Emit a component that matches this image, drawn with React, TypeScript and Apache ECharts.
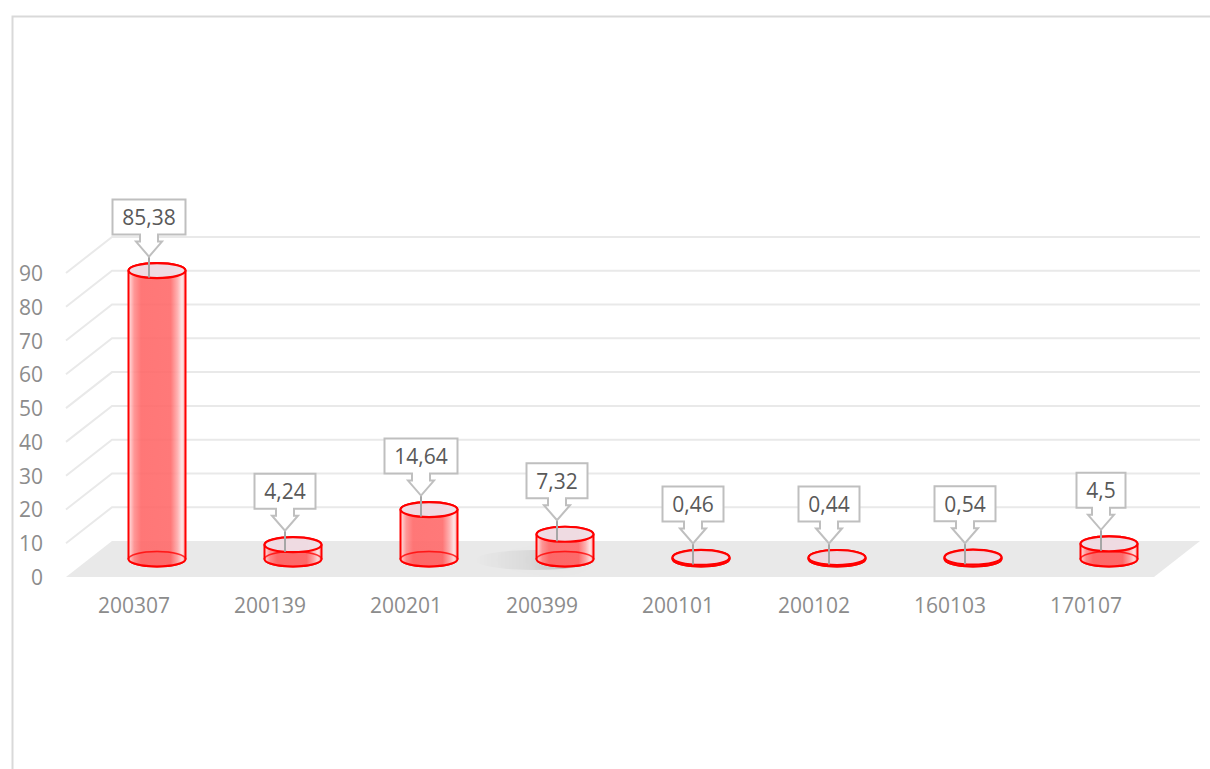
import React, { useEffect, useRef } from 'react';
import * as echarts from 'echarts';

const categories = ['200307', '200139', '200201', '200399', '200101', '200102', '160103', '170107'];
const values = [85.38, 4.24, 14.64, 7.32, 0.46, 0.44, 0.54, 4.5];
const yTicks = [0, 10, 20, 30, 40, 50, 60, 70, 80, 90];
const shadowedCategories = ['200399'];

const FONT = '"Open Sans", "Noto Sans", sans-serif';
const FS = 21;
const DX = 46;
const DY = -36;
const RX = 28.5;
const RY = 7.5;

function ellipsePath(cx: number, cy: number, rx: number, ry: number) {
  return `M${cx - rx},${cy}A${rx},${ry} 0 0 0 ${cx + rx},${cy}A${rx},${ry} 0 0 0 ${cx - rx},${cy}Z`;
}

let measureCtx: CanvasRenderingContext2D | null = null;
function textWidth(s: string) {
  if (!measureCtx) measureCtx = document.createElement('canvas').getContext('2d');
  if (!measureCtx) return s.length * 11;
  measureCtx.font = `${FS}px ${FONT}`;
  return measureCtx.measureText(s).width;
}

export default function App() {
  const ref = useRef<HTMLDivElement>(null);

  useEffect(() => {
    if (!ref.current) return;
    const chart = echarts.init(ref.current, null, { renderer: 'svg' });

    const wallsSeries = {
      type: 'custom',
      z: 1,
      silent: true,
      data: yTicks.map((v) => [0, v]),
      encode: { x: 0, y: 1 },
      renderItem: (params: any, api: any) => {
        const v = api.value(1);
        const p0 = api.coord([0, v]);
        const p1 = api.coord([1, v]);
        const pN = api.coord([categories.length - 1, v]);
        const bw = p1[0] - p0[0];
        const left = p0[0] - bw / 2;
        const right = pN[0] + bw / 2;
        const y = p0[1];
        if (v === 0) {
          return {
            type: 'polygon',
            shape: { points: [[left, y], [right, y], [right + DX, y + DY], [left + DX, y + DY]] },
            style: { fill: '#e9e9e9' },
          };
        }
        return {
          type: 'polyline',
          shape: { points: [[left, y], [left + DX, y + DY], [right + DX, y + DY]] },
          style: { stroke: '#e9e9e9', lineWidth: 2, fill: null },
        };
      },
    };

    const cylinderSeries = {
      type: 'custom',
      z: 2,
      silent: true,
      data: values.map((v, i) => [i, v]),
      encode: { x: 0, y: 1 },
      renderItem: (params: any, api: any) => {
        const i = api.value(0);
        const v = api.value(1);
        const base = api.coord([i, 0]);
        const top = api.coord([i, v]);
        const cx = base[0] + DX / 2;
        const by = base[1] + DY / 2;
        const ty = top[1] + DY / 2;
        const children: any[] = [];
        if (shadowedCategories.indexOf(categories[i]) >= 0) {
          children.push({
            type: 'path',
            shape: { pathData: ellipsePath(cx - 30, by + 1, 60, 10) },
            style: {
              fill: new echarts.graphic.LinearGradient(0, 0, 1, 0, [
                { offset: 0, color: 'rgba(0,0,0,0)' },
                { offset: 0.45, color: 'rgba(0,0,0,0.06)' },
                { offset: 0.75, color: 'rgba(0,0,0,0.16)' },
                { offset: 1, color: 'rgba(0,0,0,0.04)' },
              ]),
              shadowBlur: 14,
              shadowColor: 'rgba(0,0,0,0.12)',
            },
          });
        }
        children.push({
          type: 'path',
          shape: { pathData: ellipsePath(cx, by, RX, RY) },
          style: { fill: 'rgba(240,80,80,0.85)', stroke: '#ff0000', lineWidth: 2 },
        });
        children.push({
          type: 'path',
          shape: {
            pathData: `M${cx - RX},${ty}L${cx - RX},${by}A${RX},${RY} 0 0 0 ${cx + RX},${by}L${cx + RX},${ty}A${RX},${RY} 0 0 0 ${cx - RX},${ty}Z`,
          },
          style: {
            fill: new echarts.graphic.LinearGradient(0, 0, 1, 0, [
              { offset: 0, color: 'rgba(255,225,225,0.9)' },
              { offset: 0.1, color: 'rgba(255,140,140,0.9)' },
              { offset: 0.22, color: 'rgba(255,104,104,0.9)' },
              { offset: 0.74, color: 'rgba(255,106,106,0.9)' },
              { offset: 0.86, color: 'rgba(255,170,170,0.9)' },
              { offset: 0.94, color: 'rgba(255,228,228,0.9)' },
              { offset: 1, color: 'rgba(255,150,150,0.9)' },
            ]),
            stroke: '#ff0000',
            lineWidth: 2,
          },
        });
        children.push({
          type: 'path',
          shape: { pathData: `M${cx + RX},${by}A${RX},${RY} 0 0 0 ${cx - RX},${by}` },
          style: { fill: null, stroke: 'rgba(255,0,0,0.75)', lineWidth: 1.6 },
        });
        children.push({
          type: 'path',
          shape: { pathData: ellipsePath(cx, ty, RX, RY) },
          style: { fill: 'rgba(238,224,232,0.95)', stroke: '#ff0000', lineWidth: 2.2 },
        });
        return { type: 'group', children };
      },
    };

    const labelSeries = {
      type: 'custom',
      z: 3,
      silent: true,
      data: values.map((v, i) => [i, v]),
      encode: { x: 0, y: 1 },
      renderItem: (params: any, api: any) => {
        const i = api.value(0);
        const v = api.value(1);
        const top = api.coord([i, v]);
        const cx = top[0] + DX / 2;
        const ty = top[1] + DY / 2;
        const text = String(values[i]).replace('.', ',');
        const w = Math.round(textWidth(text) + 20);
        const h = 35;
        const tx = cx - 8;
        const tipY = ty - 14;
        const by1 = tipY - 22;
        const by0 = by1 - h;
        const bx0 = tx - w / 2;
        const bx1 = tx + w / 2;
        return {
          type: 'group',
          children: [
            {
              type: 'line',
              shape: { x1: tx, y1: tipY, x2: cx - 8, y2: ty + 7 },
              style: { stroke: '#a6a6a6', lineWidth: 2 },
            },
            {
              type: 'polygon',
              shape: {
                points: [
                  [bx0, by0], [bx1, by0], [bx1, by1], [tx + 9, by1], [tx + 9, by1 + 7], [tx + 13, by1 + 7],
                  [tx, tipY], [tx - 13, by1 + 7], [tx - 9, by1 + 7], [tx - 9, by1], [bx0, by1],
                ],
              },
              style: { fill: '#ffffff', stroke: '#bfbfbf', lineWidth: 2 },
            },
            {
              type: 'text',
              style: {
                text,
                x: tx,
                y: (by0 + by1) / 2,
                align: 'center',
                verticalAlign: 'middle',
                fill: '#595959',
                fontSize: FS,
                fontFamily: FONT,
              },
            },
          ],
        };
      },
    };

    chart.setOption({
      animation: false,
      backgroundColor: '#ffffff',
      graphic: [
        {
          type: 'rect',
          left: 10,
          top: 14,
          shape: { width: 1240, height: 800 },
          style: { fill: null, stroke: '#d9d9d9', lineWidth: 2 },
          silent: true,
          z: 0,
        },
      ],
      grid: { left: 66, top: 273, width: 1088, height: 304 },
      xAxis: {
        type: 'category',
        data: categories,
        axisLine: { show: false },
        axisTick: { show: false },
        axisLabel: { color: '#8c8c8c', fontSize: FS, fontFamily: FONT, margin: 17 },
      },
      yAxis: {
        type: 'value',
        min: 0,
        max: 90,
        interval: 10,
        axisLine: { show: false },
        axisTick: { show: false },
        splitLine: { show: false },
        axisLabel: { color: '#8c8c8c', fontSize: FS, fontFamily: FONT, margin: 23 },
      },
      series: [wallsSeries, cylinderSeries, labelSeries],
    });

    return () => chart.dispose();
  }, []);

  return (
    <div
      ref={ref}
      style={{ position: 'absolute', left: 0, top: 0, width: 1210, height: 769, background: '#ffffff' }}
    />
  );
}
